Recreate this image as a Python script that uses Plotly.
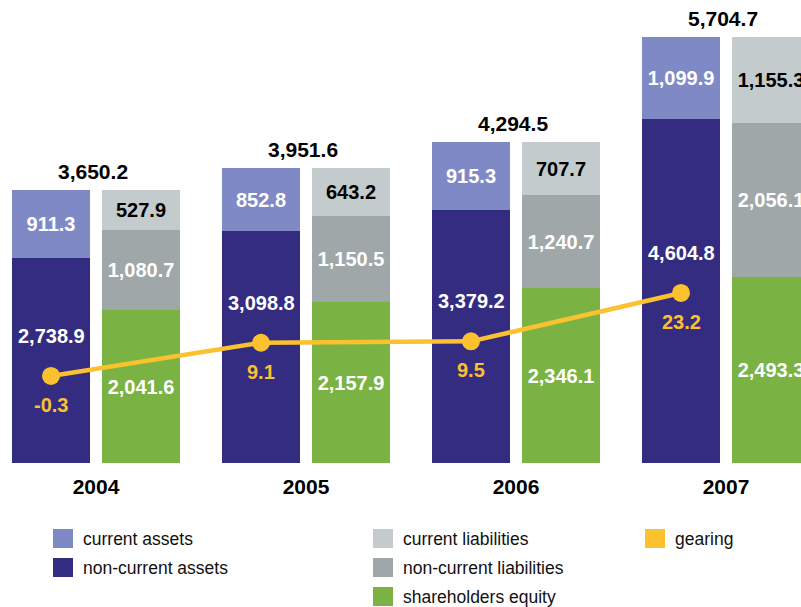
import numpy as np
import plotly.graph_objects as go

years = ["2004", "2005", "2006", "2007"]
current_assets = [911.3, 852.8, 915.3, 1099.9]
non_current_assets = [2738.9, 3098.8, 3379.2, 4604.8]
current_liabilities = [527.9, 643.2, 707.7, 1155.3]
non_current_liabilities = [1080.7, 1150.5, 1240.7, 2056.1]
shareholders_equity = [2041.6, 2157.9, 2346.1, 2493.3]
gearing = [-0.3, 9.1, 9.5, 23.2]
totals = [3650.2, 3951.6, 4294.5, 5704.7]

C_CA = "#7F89C6"
C_NCA = "#332C80"
C_CL = "#C3CBCD"
C_NCL = "#A0A7A9"
C_EQ = "#7AB343"
C_G = "#FBC12E"

W, H = 801, 607
FONT = "Liberation Sans, Arial, sans-serif"

idx = np.arange(len(years))
off = 0.2143
bw = 0.376
xa = idx - off
xl = idx + off

lbl = dict(family=FONT, size=20, color="white", weight="bold")
lbl_dark = dict(family=FONT, size=20, color="black", weight="bold")

fig = go.Figure()

def bar(x, y, color, name, text=True, dark=False):
    fig.add_trace(go.Bar(
        x=x, y=y, width=bw, marker=dict(color=color, line=dict(width=0)), name=name,
        texttemplate="%{y:,.1f}" if text else "", textposition="inside" if text else "none",
        insidetextanchor="middle", textangle=0, constraintext="none",
        textfont=lbl_dark if dark else lbl, showlegend=False, hoverinfo="skip"))

bar(xa, non_current_assets, C_NCA, "non-current assets", text=False)
bar(xa, current_assets, C_CA, "current assets")
bar(xl, shareholders_equity, C_EQ, "shareholders equity")
bar(xl, non_current_liabilities, C_NCL, "non-current liabilities")
bar(xl, current_liabilities, C_CL, "current liabilities", dark=True)

fig.add_trace(go.Scatter(
    x=xa, y=gearing, yaxis="y2", mode="lines+markers",
    line=dict(color=C_G, width=4.5), marker=dict(color=C_G, size=18),
    showlegend=False, hoverinfo="skip"))

ann = []
# totals above each group
for i, t in enumerate(totals):
    ann.append(dict(x=idx[i], y=t, xref="x", yref="y", text=f"{t:,.1f}", showarrow=False,
                    yanchor="bottom", yshift=5, xshift=-3,
                    font=dict(family=FONT, size=21, color="black", weight="bold")))
# gearing labels and non-current assets labels relative to gearing point
for i, g in enumerate(gearing):
    ann.append(dict(x=xa[i], y=g, xref="x", yref="y2", text=f"{g:.1f}", showarrow=False,
                    yanchor="middle", yshift=-29,
                    font=dict(family=FONT, size=20, color=C_G, weight="bold")))
    ann.append(dict(x=xa[i], y=g, xref="x", yref="y2", text=f"{non_current_assets[i]:,.1f}",
                    showarrow=False, yanchor="middle", yshift=40,
                    font=dict(family=FONT, size=20, color="white", weight="bold")))

# manual legend
legend_items = [
    ("current assets", C_CA, 0, 0), ("non-current assets", C_NCA, 0, 1),
    ("current liabilities", C_CL, 1, 0), ("non-current liabilities", C_NCL, 1, 1),
    ("shareholders equity", C_EQ, 1, 2), ("gearing", C_G, 2, 0),
]
col_x = [53, 373, 645]
row_y = [529, 558, 587]
shapes = []
for name, color, c, r in legend_items:
    x0, y0 = col_x[c], row_y[r]
    shapes.append(dict(type="rect", xref="paper", yref="paper",
                       x0=x0 / W, x1=(x0 + 20) / W, y0=1 - (y0 + 19) / H, y1=1 - y0 / H,
                       fillcolor=color, line=dict(width=0)))
    ann.append(dict(x=(x0 + 28) / W, y=1 - (y0 + 9.5) / H, xref="paper", yref="paper",
                    text=name, showarrow=False, xanchor="left", yanchor="middle",
                    font=dict(family=FONT, size=17.5, color="#111111")))

fig.update_layout(
    width=W, height=H, margin=dict(l=0, r=0, t=0, b=0),
    paper_bgcolor="white", plot_bgcolor="white",
    barmode="relative", bargap=0,
    font=dict(family=FONT),
    xaxis=dict(domain=[0, 1], range=[-96 / 210, (W - 96) / 210], tickvals=idx, ticktext=years,
               ticks="outside", ticklen=5, tickcolor="white", showgrid=False, zeroline=False,
               showline=False, tickfont=dict(family=FONT, size=21, color="black", weight="bold")),
    yaxis=dict(domain=[144 / H, 1], range=[0, 463 / 0.07475], showgrid=False, zeroline=False,
               showticklabels=False, showline=False),
    yaxis2=dict(overlaying="y", range=[-24.94, 106.14], showgrid=False, zeroline=False,
                showticklabels=False, showline=False),
    annotations=ann, shapes=shapes, showlegend=False,
)

fig.write_html("out.html")
